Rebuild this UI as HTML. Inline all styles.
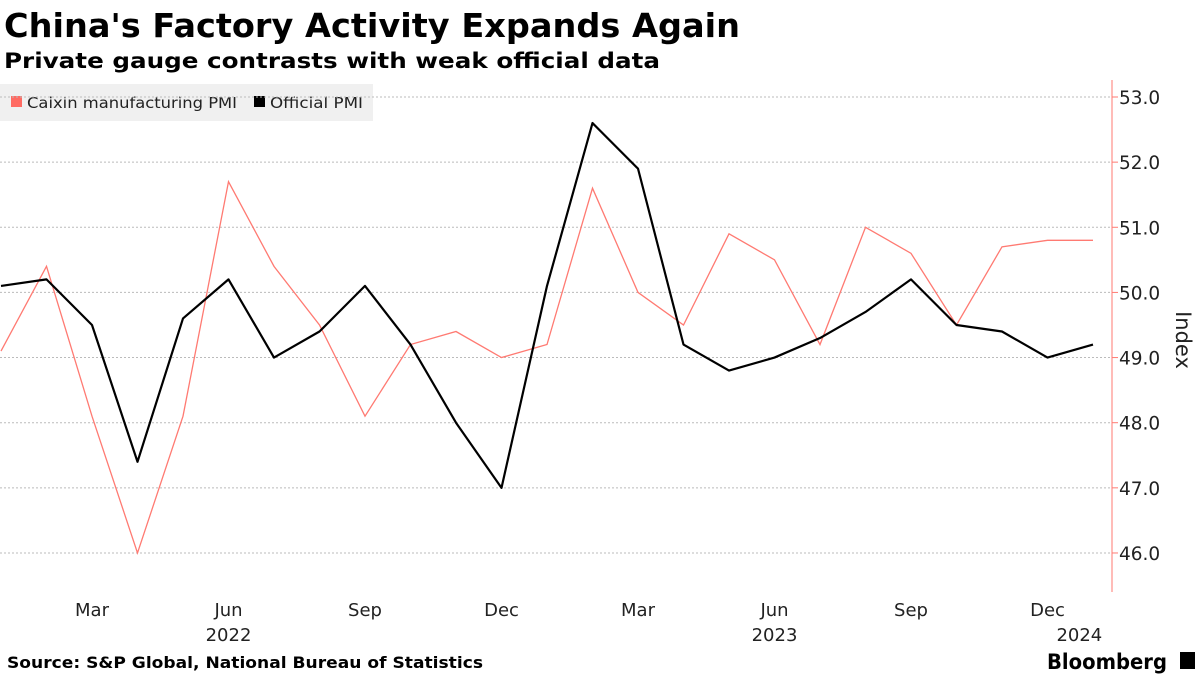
<!DOCTYPE html>
<html><head><meta charset="utf-8"><style>
body{margin:0;background:#fff;font-family:"DejaVu Sans","Liberation Sans",sans-serif;}
#wrap{position:relative;width:1200px;height:675px;overflow:hidden;}
</style></head><body>
<div id="wrap">
<svg id="chart" width="1200" height="675" style="position:absolute;left:0;top:0;font-family:'DejaVu Sans',sans-serif;">
<text x="4" y="37" font-size="33" font-weight="bold" textLength="736" lengthAdjust="spacingAndGlyphs">China's Factory Activity Expands Again</text>
<text x="4" y="68" font-size="21" font-weight="bold" textLength="656" lengthAdjust="spacingAndGlyphs">Private gauge contrasts with weak official data</text>
<rect x="0" y="84" width="373" height="37" fill="#f0f0f0"/>
<rect x="11" y="96" width="11" height="11" fill="#ff6b63"/>
<text x="27" y="108" font-size="15.5" fill="#222" textLength="210" lengthAdjust="spacingAndGlyphs">Caixin manufacturing PMI</text>
<rect x="254" y="96" width="11" height="11" fill="#000"/>
<text x="270" y="108" font-size="15.5" fill="#222" textLength="93" lengthAdjust="spacingAndGlyphs">Official PMI</text>
<text x="7" y="668" font-size="16" font-weight="bold" textLength="476" lengthAdjust="spacingAndGlyphs">Source: S&amp;P Global, National Bureau of Statistics</text>
<text x="1047" y="669" font-size="21" font-weight="bold" textLength="120" lengthAdjust="spacingAndGlyphs">Bloomberg</text>
<rect x="1180" y="652" width="15" height="17" fill="#000"/>
</svg>
</div>
<script>
const caixin=[49.1,50.4,48.1,46.0,48.1,51.7,50.4,49.5,48.1,49.2,49.4,49.0,49.2,51.6,50.0,49.5,50.9,50.5,49.2,51.0,50.6,49.5,50.7,50.8,50.8];
const official=[50.1,50.2,49.5,47.4,49.6,50.2,49.0,49.4,50.1,49.2,48.0,47.0,50.1,52.6,51.9,49.2,48.8,49.0,49.3,49.7,50.2,49.5,49.4,49.0,49.2];
const yTicks=[46,47,48,49,50,51,52,53];
const xLabels=[{i:2,t:"Mar"},{i:5,t:"Jun"},{i:8,t:"Sep"},{i:11,t:"Dec"},{i:14,t:"Mar"},{i:17,t:"Jun"},{i:20,t:"Sep"},{i:23,t:"Dec"}];
const yearLabels=[{i:5,t:"2022"},{i:17,t:"2023"},{i:23.7,t:"2024"}];
const NS="http://www.w3.org/2000/svg";
const svg=document.getElementById('chart');
const x=i=>1+i*45.5;
const y=v=>97+(53-v)*65.14;
function mk(tag,attrs){const e=document.createElementNS(NS,tag);for(const k in attrs)e.setAttribute(k,attrs[k]);svg.appendChild(e);return e;}
yTicks.forEach(v=>{
 const g=mk('line',{x1:0,x2:1110,y1:y(v),y2:y(v),stroke:'#bbb','stroke-dasharray':'2,2'});
 
 
 const tk=mk('line',{x1:1112,x2:1118,y1:y(v),y2:y(v),stroke:'#ff7a72'});
 
 
 const t=mk('text',{x:1119,y:y(v)+7,'font-size':18.5,fill:'#222'});t.textContent=v.toFixed(1);
 
 
});
const ax=mk('line',{x1:1112,x2:1112,y1:80,y2:592,stroke:'#ff7a72'});


const yt=mk('text',{x:0,y:0,'font-size':21,fill:'#222',transform:'translate(1176,340) rotate(90)','text-anchor':'middle'});yt.textContent='Index';


xLabels.forEach(l=>{const t=mk('text',{x:x(l.i),y:616,'font-size':18,fill:'#222','text-anchor':'middle'});t.textContent=l.t;
 
 });
yearLabels.forEach(l=>{const t=mk('text',{x:x(l.i),y:641,'font-size':18,fill:'#222','text-anchor':'middle'});t.textContent=l.t;
 
 });
const c=mk('polyline',{points:caixin.map((v,i)=>x(i)+','+y(v)).join(' '),fill:'none',stroke:'#ff7a72','stroke-width':1.3});


const o=mk('polyline',{points:official.map((v,i)=>x(i)+','+y(v)).join(' '),fill:'none',stroke:'#000','stroke-width':2.2,'stroke-linejoin':'round'});


</script>
</body></html>
